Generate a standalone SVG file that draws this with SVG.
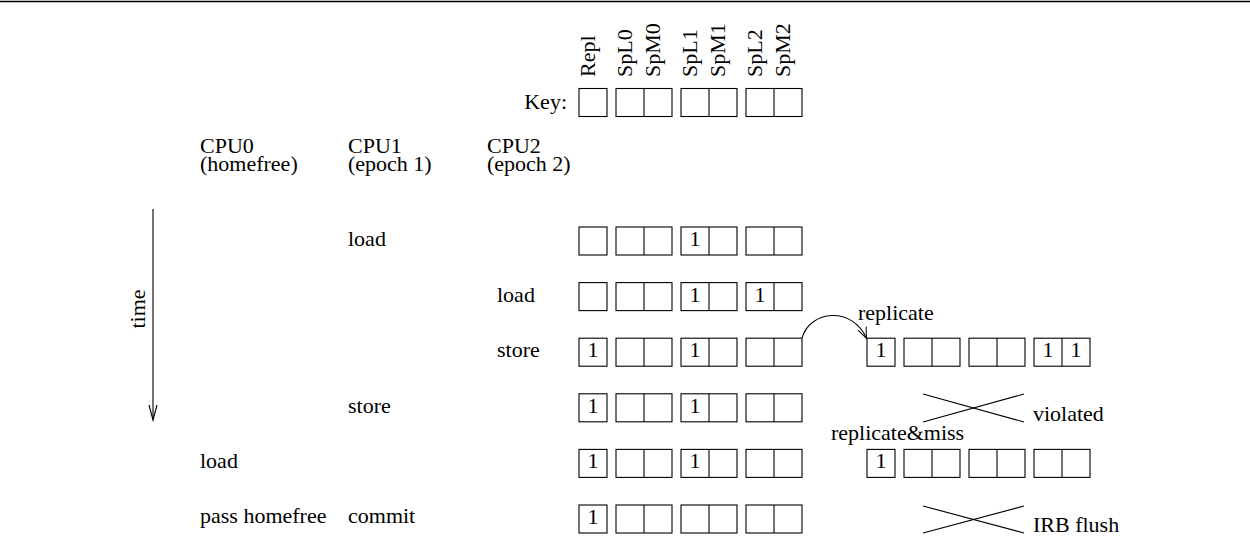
<svg xmlns="http://www.w3.org/2000/svg" xmlns:xlink="http://www.w3.org/1999/xlink" width="1250" height="550" viewBox="0 0 1250 550">
<style>
text{font-family:"Liberation Serif","Times New Roman",serif;font-size:22px;fill:#000}
.n{text-anchor:middle}
.b{fill:none;stroke:#000;stroke-width:1.1}
.ln{stroke:#000;stroke-width:1.1;fill:none}
</style>
<defs>
<g id="cells">
<rect class="b" x="0" y="0" width="28" height="28"/>
<rect class="b" x="37" y="0" width="56" height="28"/>
<line class="ln" x1="65" y1="0" x2="65" y2="28"/>
<rect class="b" x="102" y="0" width="56" height="28"/>
<line class="ln" x1="130" y1="0" x2="130" y2="28"/>
<rect class="b" x="167" y="0" width="56" height="28"/>
<line class="ln" x1="195" y1="0" x2="195" y2="28"/>
</g>
<marker id="ah" viewBox="0 0 12 12" refX="11" refY="6" markerWidth="12" markerHeight="12" markerUnits="userSpaceOnUse" orient="auto">
<path d="M0,1.5 L11,6 L0,10.5" fill="none" stroke="#000" stroke-width="1"/>
</marker>
</defs>
<line x1="0" y1="1.5" x2="1250" y2="1.5" stroke="#000" stroke-width="1.6"/>
<g id="key">
<text x="567" y="109" text-anchor="end">Key:</text>
<use xlink:href="#cells" x="579" y="88.5"/>
<text transform="translate(595,77) rotate(-90)">Repl</text>
<text transform="translate(632,77) rotate(-90)">SpL0</text>
<text transform="translate(660,77) rotate(-90)">SpM0</text>
<text transform="translate(697,77) rotate(-90)">SpL1</text>
<text transform="translate(725,77) rotate(-90)">SpM1</text>
<text transform="translate(762,77) rotate(-90)">SpL2</text>
<text transform="translate(790,77) rotate(-90)">SpM2</text>
</g>
<g id="cpu0"><text x="200" y="153">CPU0</text><text x="200" y="171">(homefree)</text></g>
<g id="cpu1"><text x="348" y="153">CPU1</text><text x="348" y="171">(epoch 1)</text></g>
<g id="cpu2"><text x="487" y="153">CPU2</text><text x="487" y="171">(epoch 2)</text></g>
<g id="time">
<line class="ln" x1="153" y1="209" x2="153" y2="420"/>
<path d="M149,405 L153,420 L157,405" class="ln"/>
<text transform="translate(145,309) rotate(-90)" text-anchor="middle">time</text>
</g>
<g id="row1">
<text x="348" y="246">load</text>
<use xlink:href="#cells" x="579" y="227"/>
<text class="n" x="695" y="246">1</text>
</g>
<g id="row2">
<text x="497" y="302">load</text>
<use xlink:href="#cells" x="579" y="282.6"/>
<text class="n" x="695" y="302">1</text>
<text class="n" x="760" y="302">1</text>
</g>
<g id="row3">
<text x="497" y="357">store</text>
<use xlink:href="#cells" x="579" y="338.2"/>
<text class="n" x="593" y="357">1</text>
<text class="n" x="695" y="357">1</text>
</g>
<g id="row3r">
<text x="858" y="320">replicate</text>
<use xlink:href="#cells" x="867" y="338.2"/>
<text class="n" x="881" y="357">1</text>
<text class="n" x="1048" y="357">1</text>
<text class="n" x="1076" y="357">1</text>
</g>
<g id="row4">
<text x="348" y="413">store</text>
<use xlink:href="#cells" x="579" y="393.8"/>
<text class="n" x="593" y="413">1</text>
<text class="n" x="695" y="413">1</text>
</g>
<g id="row4r">
<line class="ln" x1="923" y1="394" x2="1024" y2="422"/>
<line class="ln" x1="923" y1="422" x2="1024" y2="394"/>
<text x="1033" y="421">violated</text>
</g>
<g id="row5">
<text x="200" y="468">load</text>
<use xlink:href="#cells" x="579" y="449.4"/>
<text class="n" x="593" y="468">1</text>
<text class="n" x="695" y="468">1</text>
</g>
<g id="row5r">
<text x="831" y="440">replicate&amp;miss</text>
<use xlink:href="#cells" x="867" y="449.4"/>
<text class="n" x="881" y="468">1</text>
</g>
<g id="row6">
<text x="200" y="523">pass homefree</text>
<text x="348" y="523">commit</text>
<use xlink:href="#cells" x="579" y="505"/>
<text class="n" x="593" y="524">1</text>
</g>
<g id="row6r">
<line class="ln" x1="923" y1="506" x2="1024" y2="533"/>
<line class="ln" x1="923" y1="533" x2="1024" y2="506"/>
<text x="1033" y="532">IRB flush</text>
</g>
<g id="connectors">
<path class="ln" d="M802,338.2 C810,310 852,306 866.5,338.2" marker-end="url(#ah)"/>
</g>
</svg>
